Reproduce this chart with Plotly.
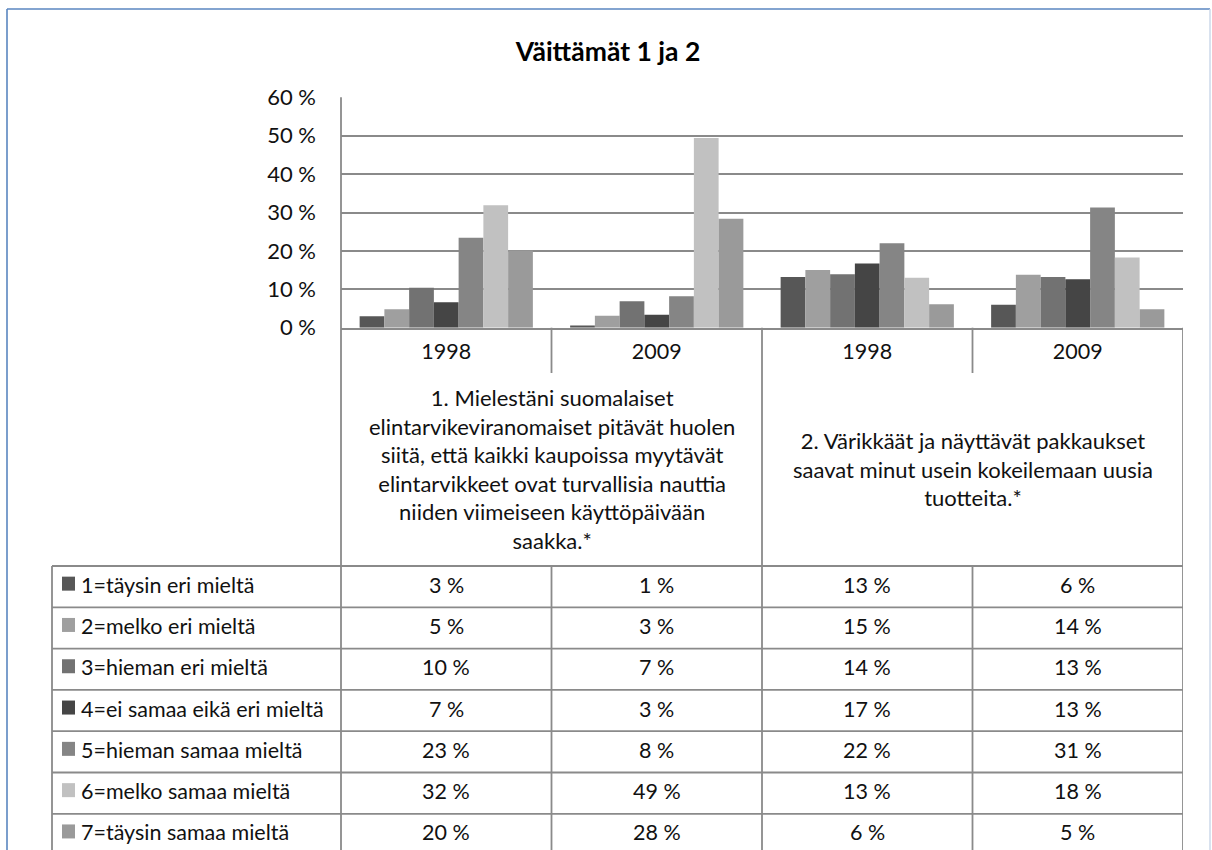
import plotly.graph_objects as go

W, H = 1212, 850

# --- data -------------------------------------------------------------
categories = ["1998", "2009", "1998", "2009"]
statements = [
    "1. Mielestäni suomalaiset<br>elintarvikeviranomaiset pitävät huolen<br>"
    "siitä, että kaikki kaupoissa myytävät<br>elintarvikkeet ovat turvallisia nauttia<br>"
    "niiden viimeiseen käyttöpäivään<br>saakka.*",
    "2. Värikkäät ja näyttävät pakkaukset<br>saavat minut usein kokeilemaan uusia<br>tuotteita.*",
]
series_names = [
    "1=täysin eri mieltä",
    "2=melko eri mieltä",
    "3=hieman eri mieltä",
    "4=ei samaa eikä eri mieltä",
    "5=hieman samaa mieltä",
    "6=melko samaa mieltä",
    "7=täysin samaa mieltä",
]
s1 = [0.030, 0.006, 0.132, 0.060]
s2 = [0.048, 0.031, 0.150, 0.138]
s3 = [0.104, 0.069, 0.139, 0.132]
s4 = [0.066, 0.034, 0.167, 0.126]
s5 = [0.234, 0.082, 0.220, 0.313]
s6 = [0.319, 0.494, 0.130, 0.183]
s7 = [0.201, 0.284, 0.061, 0.048]
series_values = [s1, s2, s3, s4, s5, s6, s7]
y_ticks = [0, 0.1, 0.2, 0.3, 0.4, 0.5, 0.6]

colors = ["#575757", "#9f9f9f", "#727272", "#454545", "#858585", "#c1c1c1", "#9a9a9a"]
FONT = "Lato"
GRID = "#8a8a8a"
TXT = "#111"


def px(x):
    return x / W


def py(y):
    return 1 - y / H


# plot area in pixels
X0, X1 = 341, 1183
Y_TOP, Y_BOT = 97.3, 327.7
TABLE_TOP, ROW_H = 566, 41.3
TABLE_LEFT = 52

fig = go.Figure()
xs = list(range(len(categories)))
for name, vals, c in zip(series_names, series_values, colors):
    fig.add_trace(go.Bar(x=xs, y=vals, name=name, marker=dict(color=c, line=dict(width=0)),
                         showlegend=False))

shapes = []
annotations = []


def vline(x, y0, y1, xref="paper", color=GRID, width=1.8):
    shapes.append(dict(type="line", xref=xref, yref="paper", x0=x, x1=x,
                       y0=py(y0), y1=py(y1), line=dict(color=color, width=width)))


def hline(y, x0, x1, color=GRID, width=1.8):
    shapes.append(dict(type="line", xref="paper", yref="paper", x0=px(x0), x1=px(x1),
                       y0=py(y), y1=py(y), line=dict(color=color, width=width)))


# chart frame (blue border)
vline(px(7), 9, H, color="#5a86c0", width=1.6)
hline(9, 7, 1210, color="#5a86c0", width=1.6)
vline(px(1210), 9, H, color="#c9d6e8", width=1.4)

# left axis line running down through the table
vline(px(X0), Y_TOP, H)
# category / group dividers
n = len(categories)
for k in range(1, n + 1):
    xb = k - 0.5
    if k % 2 == 1 and k < n:
        vline(xb, Y_BOT, 373, xref="x")
        vline(xb, TABLE_TOP, H, xref="x")
    else:
        vline(xb, Y_BOT, H, xref="x")
vline(px(TABLE_LEFT), TABLE_TOP, H)

# table rows
for r in range(len(series_names) + 1):
    hline(TABLE_TOP + r * ROW_H, TABLE_LEFT, X1)

# legend keys, labels and values
for r, (name, vals, c) in enumerate(zip(series_names, series_values, colors)):
    yc = TABLE_TOP + (r + 0.5) * ROW_H - 2
    shapes.append(dict(type="rect", xref="paper", yref="paper",
                       x0=px(62), x1=px(75), y0=py(yc + 6), y1=py(yc - 8),
                       fillcolor=c, line=dict(width=0)))
    annotations.append(dict(x=px(79), y=py(yc), xref="paper", yref="paper", text=name,
                            showarrow=False, xanchor="left", yanchor="middle",
                            font=dict(family=FONT, size=21.5, color=TXT)))
    for i, v in enumerate(vals):
        annotations.append(dict(x=i, y=py(yc), xref="x", yref="paper",
                                text=f"{round(v * 100)} %", showarrow=False,
                                xanchor="center", yanchor="middle",
                                font=dict(family=FONT, size=21.5, color=TXT)))

# group (statement) labels
for g, txt in enumerate(statements):
    annotations.append(dict(x=2 * g + 0.5, y=py(469), xref="x", yref="paper", text=txt,
                            showarrow=False, xanchor="center", yanchor="middle",
                            align="center", font=dict(family=FONT, size=22, color=TXT)))

fig.update_layout(
    width=W, height=H,
    template="none",
    margin=dict(l=0, r=0, t=0, b=0),
    paper_bgcolor="white", plot_bgcolor="white",
    barmode="group", bargap=0.177, bargroupgap=0,
    title=dict(text="Väittämät 1 ja 2", x=px(608), y=py(52), xanchor="center",
               yanchor="middle", font=dict(family=FONT, size=26.5, color="#000", weight="bold")),
    xaxis=dict(domain=[px(X0), px(X1)], range=[-0.5, n - 0.5], tickvals=xs,
               ticktext=categories, showgrid=False, zeroline=False, showline=True,
               linecolor=GRID, linewidth=1.8, ticks="", automargin=False,
               ticklabelstandoff=4, tickfont=dict(family=FONT, size=21.5, color=TXT)),
    yaxis=dict(domain=[py(Y_BOT), py(Y_TOP)], range=[0, 0.6], tickvals=y_ticks,
               ticktext=[f"{round(v * 100)} %" for v in y_ticks], showgrid=True,
               gridcolor=GRID, gridwidth=1.8, zeroline=False, showline=False, ticks="",
               automargin=False, ticklabelstandoff=24,
               tickfont=dict(family=FONT, size=22, color=TXT)),
    shapes=shapes,
    annotations=annotations,
)

fig.write_html("out.html", config={"displayModeBar": False},
               post_script="document.body.style.margin='0px';")
